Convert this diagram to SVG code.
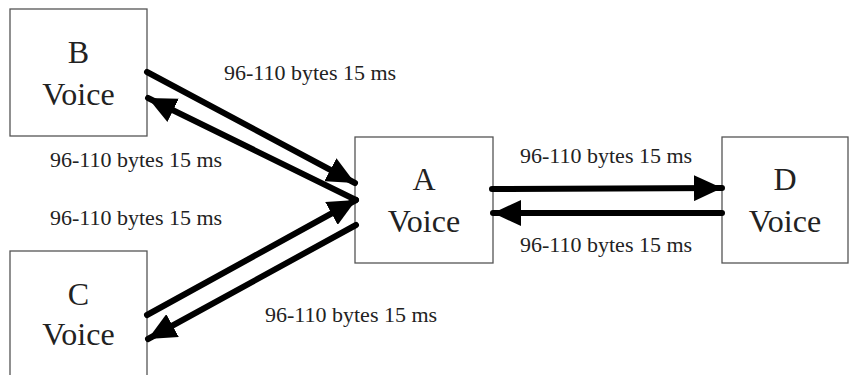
<svg xmlns="http://www.w3.org/2000/svg" width="849" height="375" viewBox="0 0 849 375">
<defs>
<style>
.box{fill:#fff;stroke:#555;stroke-width:1.3}
.nt{font-family:'Times New Roman','Liberation Serif',Tinos,'DejaVu Serif',serif;font-size:32px;fill:#222;text-anchor:middle}
.lb{font-family:'Times New Roman','Liberation Serif',Tinos,'DejaVu Serif',serif;font-size:22px;fill:#222}
.ln{stroke:#000;stroke-width:6;stroke-linecap:round;fill:none;marker-end:url(#ah)}
</style>
<marker id="ah" markerUnits="userSpaceOnUse" viewBox="0 0 28 26" markerWidth="28" markerHeight="26" refX="28" refY="13" orient="auto">
<path d="M0,0 L28,13 L0,26 z" fill="#000"/>
</marker>
</defs>
<rect width="849" height="375" fill="#fff"/>
<g id="nodeB"><rect class="box" x="10" y="9" width="137" height="127"/><text class="nt" x="78.5" y="63">B</text><text class="nt" x="78.5" y="105">Voice</text></g>
<g id="nodeA"><rect class="box" x="355" y="137" width="138" height="126"/><text class="nt" x="424" y="190">A</text><text class="nt" x="424" y="232">Voice</text></g>
<g id="nodeD"><rect class="box" x="722" y="137" width="126" height="126"/><text class="nt" x="785" y="190">D</text><text class="nt" x="785" y="232">Voice</text></g>
<g id="nodeC"><rect class="box" x="10" y="251" width="137" height="130"/><text class="nt" x="78.5" y="305">C</text><text class="nt" x="78.5" y="345">Voice</text></g>
<g id="connectors">
<line class="ln" x1="147" y1="72" x2="355" y2="183"/>
<line class="ln" x1="356" y1="200" x2="148" y2="98"/>
<line class="ln" x1="147" y1="315" x2="356" y2="200"/>
<line class="ln" x1="356" y1="225" x2="148" y2="339"/>
<line class="ln" x1="492" y1="189" x2="722" y2="188"/>
<line class="ln" x1="722" y1="213" x2="493" y2="213"/>
<text class="lb" x="224" y="80">96-110 bytes 15 ms</text>
<text class="lb" x="50" y="167">96-110 bytes 15 ms</text>
<text class="lb" x="50" y="225">96-110 bytes 15 ms</text>
<text class="lb" x="265" y="322">96-110 bytes 15 ms</text>
<text class="lb" x="520" y="163">96-110 bytes 15 ms</text>
<text class="lb" x="520" y="252">96-110 bytes 15 ms</text>
</g>
</svg>
